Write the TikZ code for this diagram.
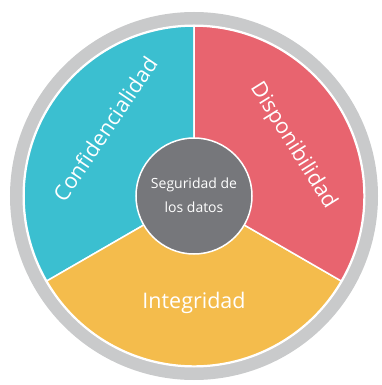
\documentclass[tikz,border=0pt]{standalone}
\usepackage{fontspec}
\setmainfont{Open Sans}
\definecolor{ringgray}{HTML}{C9CACB}
\definecolor{confcyan}{HTML}{3BBFD0}
\definecolor{disred}{HTML}{E8646F}
\definecolor{intyellow}{HTML}{F4BC4C}
\definecolor{coregray}{HTML}{76777B}

\begin{document}
\begin{tikzpicture}[x=1pt,y=1pt]

\tikzstyle{sector} = [draw=white, line width=1.5pt]
\tikzstyle{lbl} = [text=white, font=\fontsize{21.5}{25}\selectfont]
\useasboundingbox (-194,-189) rectangle (188,196);
% outer ring
\fill[ringgray] (0,0) circle (184);
\fill[white] (0,0) circle (171.5);
% the three parts
\filldraw[sector, fill=confcyan] (0,0) -- (90:170) arc (90:210:170) -- cycle;
\filldraw[sector, fill=intyellow] (0,0) -- (210:170) arc (210:330:170) -- cycle;
\filldraw[sector, fill=disred] (0,0) -- (330:170) arc (-30:90:170) -- cycle;
\node (core) [circle, minimum size=116pt, fill=coregray, draw=white, line width=1.5pt, text=white, font=\fontsize{14}{24}\selectfont] {\raisebox{3pt}{\begin{tabular}{@{}c@{}}Seguridad de\\los datos\end{tabular}}};
\node (conf) [lbl, rotate=56] at (-89,67) {Confidencialidad};
\node (dis) [lbl, rotate=-58] at (99,50) {Disponibilidad};
\node (int) [lbl] at (0,-107) {Integridad};
\end{tikzpicture}
\end{document}
